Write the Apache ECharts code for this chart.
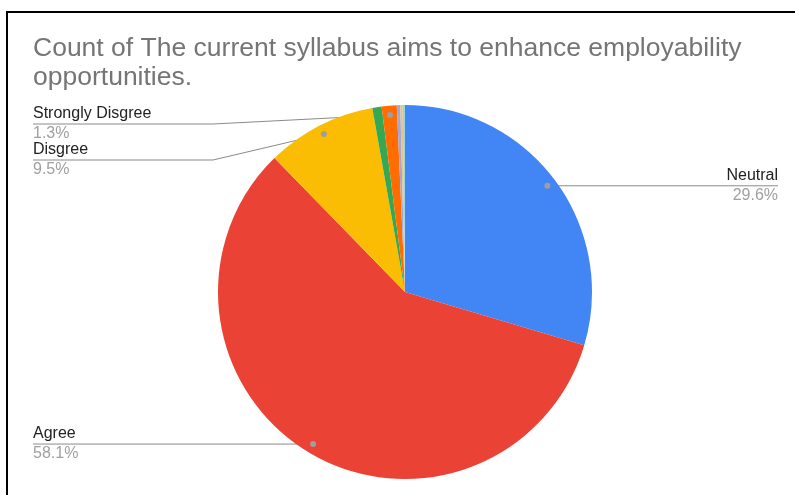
<!DOCTYPE html>
<html><head><meta charset="utf-8">
<script src="https://cdn.jsdelivr.net/npm/echarts@6/dist/echarts.min.js"></script>
<style>
html,body{margin:0;padding:0;background:#fff;}
#frame{position:absolute;left:6px;top:11px;width:789px;height:484px;border-left:2px solid #000;border-top:2px solid #000;box-sizing:border-box;}
#chart{position:absolute;left:0;top:0;width:795px;height:495px;}
</style></head><body>
<div id="frame"></div><div id="chart"></div>
<script>
const titleText = 'Count of The current syllabus aims to enhance employability\nopportunities.';
const categories = ['Neutral', 'Agree', 'Disgree', 'Strongly Agree', 'Strongly Disgree', 'Other A', 'Other B', 'Other C'];
const values = [29.6, 58.1, 9.5, 0.8, 1.3, 0.3, 0.2, 0.2];
const colors = ['#4285f4', '#ea4335', '#fbbc04', '#34a853', '#ff6d01', '#a3a6d8', '#eac47c', '#9fd4d9'];
const labelled = [true, true, true, false, true, false, false, false];

const CX = 405, CY = 292, R = 187;
const LEFT_X = 33, RIGHT_X = 778, MIN_TOP = 106, HALF = 18, STEP = 36;

// layout of labels computed from the data angles
const total = values.reduce((a, b) => a + b, 0);
const layout = {};
let cum = 0;
values.forEach((v, i) => {
  const mid = (cum + v / 2) / total * Math.PI * 2;
  cum += v;
  if (!labelled[i]) return;
  const ax = CX + Math.sin(mid) * R * 0.95;
  const ay = CY - Math.cos(mid) * R * 0.95;
  layout[i] = { ax, ay, side: ax < CX ? 'left' : 'right' };
});
['left', 'right'].forEach(side => {
  const items = Object.keys(layout).map(Number).filter(i => layout[i].side === side)
    .sort((a, b) => layout[a].ay - layout[b].ay);
  let prev = -Infinity;
  items.forEach(i => {
    const y = Math.max(layout[i].ay, MIN_TOP + HALF, prev + STEP);
    layout[i].lineY = y;
    prev = y;
  });
});

const chart = echarts.init(document.getElementById('chart'));
chart.setOption({
  animation: false,
  title: {
    text: titleText, left: 33, top: 34, padding: 0,
    textStyle: { fontFamily: 'Liberation Sans, Arial, sans-serif', fontSize: 26.5, fontWeight: 'normal', color: '#757575', lineHeight: 29 }
  },
  series: [{
    type: 'pie',
    center: [CX, CY],
    radius: R,
    startAngle: 90,
    clockwise: true,
    avoidLabelOverlap: false,
    percentPrecision: 1,
    emphasis: { disabled: true },
    itemStyle: { borderWidth: 0 },
    label: {
      show: true,
      formatter: '{n|{b}}\n{p|{d}%}',
      rich: {
        n: { fontFamily: 'Liberation Sans, Arial, sans-serif', fontSize: 16, color: '#222', lineHeight: 20 },
        p: { fontFamily: 'Liberation Sans, Arial, sans-serif', fontSize: 16, color: '#a0a0a0', lineHeight: 20 }
      }
    },
    labelLine: { show: true, lineStyle: { color: '#8a8a8a', width: 1 } },
    labelLayout: function (params) {
      const L = layout[params.dataIndex];
      if (!L) return {};
      const left = L.side === 'left';
      const breakX = left ? CX - R - 5 : CX + R + 5;
      const textX = left ? LEFT_X : RIGHT_X;
      return {
        x: textX, y: L.lineY,
        align: left ? 'left' : 'right',
        verticalAlign: 'middle',
        labelLinePoints: [[L.ax, L.ay], [breakX, L.lineY], [textX, L.lineY]]
      };
    },
    data: categories.map((c, i) => ({
      name: c, value: values[i],
      itemStyle: { color: colors[i] },
      label: { show: labelled[i] },
      labelLine: { show: labelled[i] }
    }))
  }],
  graphic: Object.keys(layout).map(k => ({
    type: 'circle', z: 100,
    shape: { cx: layout[k].ax, cy: layout[k].ay, r: 3 },
    style: { fill: '#9e9e9e' }
  }))
});
</script>
</body></html>
